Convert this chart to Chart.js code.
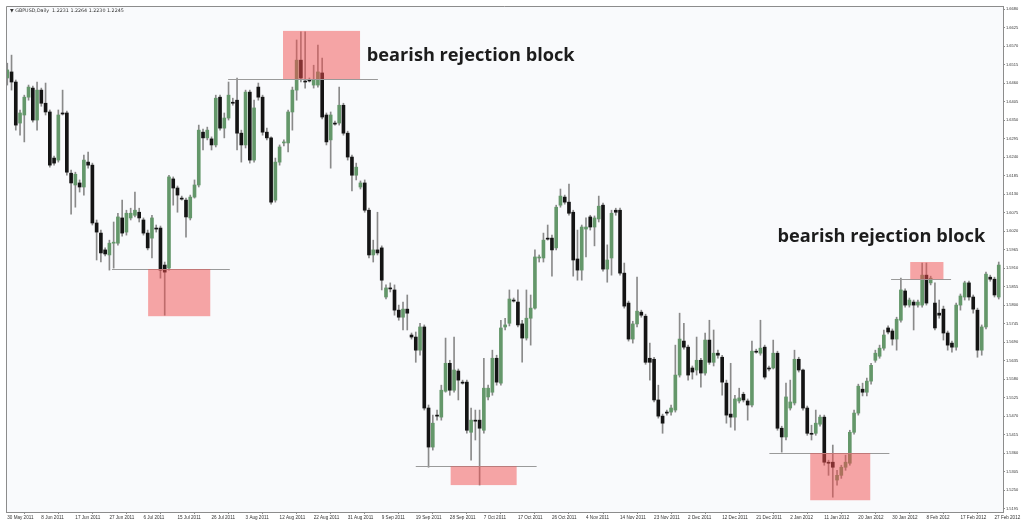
<!DOCTYPE html>
<html>
<head>
<meta charset="utf-8">
<script src="https://cdn.jsdelivr.net/npm/chart.js@4.4.0/dist/chart.umd.min.js"></script>
<style>
  html, body { margin: 0; padding: 0; background: #fff; }
  #chart { display: block; }
</style>
</head>
<body>
<canvas id="chart" width="1024" height="523"></canvas>
<script>
// GBPUSD daily candles, 30 May 2011 .. 27 Feb 2012 (one entry per bar)
const opens = [
  1.6475,1.6493,1.6463,1.6341,1.6365,1.6418,1.6445,1.6350,1.6439,1.6400,
  1.6374,1.6237,1.6231,1.6371,1.6371,1.6192,1.6157,1.6163,1.6151,1.6225,
  1.6216,1.6044,1.6014,1.5964,1.5949,1.5984,1.5984,1.6059,1.6017,1.6059,
  1.6067,1.6076,1.6053,1.6014,1.5999,1.6029,1.6029,1.5919,1.5910,1.6175,
  1.6148,1.6118,1.6112,1.6059,1.6121,1.6157,1.6314,1.6297,1.6294,1.6276,
  1.6418,1.6326,1.6356,1.6403,1.6409,1.6311,1.6276,1.6433,1.6231,1.6448,
  1.6418,1.6314,1.6297,1.6112,1.6225,1.6282,1.6282,1.6374,1.6439,1.6528,
  1.6466,1.6469,1.6454,1.6454,1.6490,1.6365,1.6291,1.6341,1.6341,1.6394,
  1.6311,1.6240,1.6186,1.6151,1.6163,1.6082,1.5949,1.5964,1.5970,1.5824,
  1.5851,1.5845,1.5785,1.5764,1.5788,1.5711,1.5705,1.5666,1.5735,1.5494,
  1.5378,1.5473,1.5467,1.5544,1.5627,1.5547,1.5604,1.5571,1.5571,1.5422,
  1.5458,1.5458,1.5428,1.5527,1.5541,1.5642,1.5568,1.5735,1.5746,1.5815,
  1.5809,1.5744,1.5702,1.5761,1.5791,1.5940,1.5940,1.5999,1.5999,1.5970,
  1.6097,1.6121,1.6106,1.6076,1.5937,1.5904,1.6026,1.6062,1.6032,1.6056,
  1.6097,1.5907,1.5940,1.6082,1.6082,1.5895,1.5806,1.5699,1.5744,1.5779,
  1.5767,1.5642,1.5639,1.5518,1.5470,1.5482,1.5482,1.5488,1.5592,1.5693,
  1.5675,1.5613,1.5607,1.5636,1.5598,1.5696,1.5630,1.5657,1.5645,1.5568,
  1.5476,1.5467,1.5515,1.5535,1.5515,1.5503,1.5663,1.5657,1.5675,1.5613,
  1.5613,1.5657,1.5434,1.5408,1.5494,1.5509,1.5639,1.5607,1.5494,1.5419,
  1.5419,1.5446,1.5467,1.5333,1.5333,1.5280,1.5294,1.5318,1.5330,1.5422,
  1.5479,1.5550,1.5541,1.5574,1.5636,1.5648,1.5672,1.5732,1.5723,1.5699,
  1.5755,1.5842,1.5800,1.5809,1.5800,1.5800,1.5889,1.5866,1.5806,1.5776,
  1.5788,1.5717,1.5687,1.5675,1.5800,1.5824,1.5866,1.5824,1.5785,1.5666,
  1.5735,1.5883,1.5877,1.5824
]
const highs = [
  1.6519,1.6543,1.6469,1.6380,1.6424,1.6454,1.6451,1.6463,1.6445,1.6460,
  1.6380,1.6243,1.6380,1.6439,1.6377,1.6201,1.6195,1.6172,1.6246,1.6255,
  1.6222,1.6053,1.6023,1.5970,1.5993,1.6047,1.6073,1.6112,1.6082,1.6088,
  1.6136,1.6088,1.6059,1.6023,1.6067,1.6038,1.6035,1.5928,1.6186,1.6181,
  1.6154,1.6124,1.6118,1.6127,1.6172,1.6335,1.6323,1.6329,1.6300,1.6424,
  1.6424,1.6371,1.6463,1.6415,1.6475,1.6320,1.6439,1.6439,1.6409,1.6460,
  1.6424,1.6326,1.6300,1.6237,1.6276,1.6291,1.6380,1.6448,1.6588,1.6612,
  1.6612,1.6475,1.6513,1.6573,1.6534,1.6371,1.6374,1.6347,1.6448,1.6400,
  1.6317,1.6246,1.6222,1.6169,1.6172,1.6088,1.5993,1.6076,1.5976,1.5860,
  1.5866,1.5860,1.5800,1.5809,1.5830,1.5717,1.5720,1.5746,1.5741,1.5503,
  1.5473,1.5488,1.5562,1.5702,1.5636,1.5705,1.5610,1.5577,1.5577,1.5494,
  1.5488,1.5488,1.5642,1.5562,1.5666,1.5651,1.5755,1.5761,1.5845,1.5821,
  1.5845,1.5755,1.5845,1.5830,1.5964,1.5949,1.6014,1.6038,1.6008,1.6097,
  1.6145,1.6127,1.6160,1.6082,1.6023,1.6038,1.6059,1.6067,1.6065,1.6124,
  1.6103,1.5979,1.6082,1.6088,1.6088,1.5925,1.5812,1.5752,1.5883,1.5785,
  1.5773,1.5687,1.5645,1.5562,1.5476,1.5488,1.5503,1.5681,1.5776,1.5746,
  1.5681,1.5619,1.5705,1.5642,1.5717,1.5755,1.5726,1.5666,1.5651,1.5577,
  1.5627,1.5532,1.5553,1.5541,1.5521,1.5693,1.5669,1.5755,1.5681,1.5619,
  1.5696,1.5663,1.5440,1.5568,1.5577,1.5666,1.5645,1.5610,1.5500,1.5443,
  1.5488,1.5473,1.5473,1.5339,1.5384,1.5309,1.5324,1.5354,1.5428,1.5488,
  1.5565,1.5568,1.5583,1.5627,1.5666,1.5681,1.5726,1.5738,1.5729,1.5764,
  1.5880,1.5848,1.5821,1.5815,1.5815,1.5925,1.5925,1.5886,1.5866,1.5815,
  1.5797,1.5723,1.5693,1.5806,1.5833,1.5871,1.5871,1.5830,1.5791,1.5741,
  1.5898,1.5889,1.5883,1.5928
]
const lows = [
  1.6454,1.6439,1.6320,1.6305,1.6285,1.6409,1.6344,1.6320,1.6391,1.6365,
  1.6210,1.6216,1.6225,1.6365,1.6186,1.6070,1.6091,1.6136,1.6127,1.6207,
  1.6038,1.5934,1.5928,1.5946,1.5904,1.5910,1.5978,1.6005,1.6008,1.6053,
  1.6062,1.6047,1.6008,1.5964,1.5940,1.6017,1.5880,1.5770,1.5904,1.6097,
  1.6076,1.6112,1.6002,1.6053,1.6118,1.6151,1.6261,1.6291,1.6261,1.6270,
  1.6320,1.6297,1.6350,1.6394,1.6261,1.6225,1.6267,1.6222,1.6225,1.6409,
  1.6305,1.6291,1.6100,1.6106,1.6216,1.6273,1.6255,1.6320,1.6409,1.6463,
  1.6445,1.6463,1.6445,1.6448,1.6353,1.6276,1.6207,1.6335,1.6335,1.6305,
  1.6231,1.6139,1.6172,1.6145,1.6076,1.5940,1.5928,1.5949,1.5845,1.5818,
  1.5839,1.5770,1.5755,1.5726,1.5726,1.5699,1.5630,1.5651,1.5488,1.5318,
  1.5369,1.5458,1.5458,1.5541,1.5532,1.5541,1.5518,1.5565,1.5419,1.5339,
  1.5399,1.5265,1.5419,1.5518,1.5532,1.5562,1.5562,1.5726,1.5738,1.5809,
  1.5735,1.5630,1.5696,1.5681,1.5788,1.5928,1.5928,1.5993,1.5886,1.5964,
  1.6091,1.6100,1.6067,1.5886,1.5874,1.5874,1.5943,1.6023,1.5976,1.6047,
  1.5901,1.5868,1.5889,1.6067,1.5889,1.5791,1.5693,1.5687,1.5735,1.5764,
  1.5624,1.5577,1.5512,1.5464,1.5419,1.5473,1.5473,1.5482,1.5586,1.5669,
  1.5577,1.5580,1.5592,1.5556,1.5592,1.5624,1.5619,1.5642,1.5532,1.5449,
  1.5437,1.5428,1.5509,1.5512,1.5458,1.5497,1.5657,1.5651,1.5580,1.5604,
  1.5610,1.5428,1.5363,1.5399,1.5488,1.5503,1.5601,1.5488,1.5413,1.5399,
  1.5413,1.5440,1.5324,1.5294,1.5229,1.5265,1.5285,1.5309,1.5324,1.5416,
  1.5473,1.5530,1.5530,1.5565,1.5630,1.5642,1.5666,1.5714,1.5681,1.5666,
  1.5749,1.5794,1.5794,1.5726,1.5794,1.5794,1.5800,1.5860,1.5726,1.5761,
  1.5696,1.5666,1.5660,1.5666,1.5785,1.5815,1.5815,1.5776,1.5645,1.5651,
  1.5729,1.5871,1.5824,1.5818
]
const closes = [
  1.6499,1.6463,1.6335,1.6371,1.6418,1.6448,1.6350,1.6439,1.6400,1.6374,
  1.6216,1.6222,1.6365,1.6368,1.6195,1.6163,1.6189,1.6151,1.6231,1.6216,
  1.6044,1.6017,1.5955,1.5952,1.5984,1.5987,1.6062,1.6014,1.6073,1.6073,
  1.6082,1.6059,1.6014,1.5970,1.6059,1.6026,1.5904,1.5898,1.6181,1.6148,
  1.6127,1.6115,1.6062,1.6121,1.6157,1.6320,1.6297,1.6320,1.6276,1.6415,
  1.6326,1.6356,1.6424,1.6400,1.6311,1.6276,1.6433,1.6231,1.6386,1.6418,
  1.6314,1.6297,1.6106,1.6225,1.6270,1.6285,1.6374,1.6439,1.6528,1.6475,
  1.6463,1.6466,1.6469,1.6493,1.6359,1.6285,1.6365,1.6338,1.6394,1.6311,
  1.6240,1.6186,1.6210,1.6163,1.6082,1.5949,1.5964,1.5955,1.5874,1.5851,
  1.5848,1.5785,1.5764,1.5788,1.5776,1.5705,1.5666,1.5735,1.5494,1.5378,
  1.5449,1.5470,1.5547,1.5627,1.5547,1.5607,1.5577,1.5568,1.5428,1.5458,
  1.5455,1.5434,1.5553,1.5553,1.5642,1.5571,1.5732,1.5741,1.5818,1.5812,
  1.5741,1.5702,1.5761,1.5791,1.5943,1.5943,1.5993,1.5996,1.5964,1.6091,
  1.6124,1.6106,1.6073,1.5934,1.5904,1.6032,1.6032,1.6032,1.6059,1.6094,
  1.5907,1.5934,1.6073,1.6076,1.5895,1.5797,1.5699,1.5744,1.5782,1.5770,
  1.5630,1.5630,1.5518,1.5470,1.5449,1.5479,1.5494,1.5592,1.5699,1.5675,
  1.5592,1.5601,1.5636,1.5598,1.5696,1.5630,1.5657,1.5651,1.5571,1.5473,
  1.5467,1.5521,1.5524,1.5518,1.5503,1.5663,1.5660,1.5672,1.5586,1.5610,
  1.5657,1.5434,1.5408,1.5527,1.5512,1.5639,1.5607,1.5494,1.5419,1.5416,
  1.5449,1.5467,1.5333,1.5330,1.5318,1.5294,1.5318,1.5333,1.5422,1.5479,
  1.5559,1.5541,1.5574,1.5621,1.5657,1.5672,1.5711,1.5720,1.5699,1.5758,
  1.5845,1.5800,1.5815,1.5800,1.5809,1.5889,1.5806,1.5880,1.5732,1.5770,
  1.5717,1.5681,1.5675,1.5800,1.5827,1.5866,1.5824,1.5788,1.5666,1.5735,
  1.5892,1.5877,1.5830,1.5919
]

// date labels, one every 8 bars
const tickLabels = ['30 May 2011','8 Jun 2011','17 Jun 2011','27 Jun 2011','6 Jul 2011','15 Jul 2011',
  '26 Jul 2011','3 Aug 2011','12 Aug 2011','22 Aug 2011','31 Aug 2011','9 Sep 2011','19 Sep 2011',
  '28 Sep 2011','7 Oct 2011','17 Oct 2011','26 Oct 2011','4 Nov 2011','14 Nov 2011','23 Nov 2011',
  '2 Dec 2011','12 Dec 2011','21 Dec 2011','2 Jan 2012','11 Jan 2012','20 Jan 2012','30 Jan 2012',
  '8 Feb 2012','17 Feb 2012','27 Feb 2012']
const tickEvery = 8

const priceTicks = [1.5195,1.5250,1.5305,1.5360,1.5415,1.5470,1.5525,1.5580,1.5635,1.5690,
  1.5745,1.5800,1.5855,1.5910,1.5965,1.6020,1.6075,1.6130,1.6185,1.6240,1.6295,1.6350,
  1.6405,1.6460,1.6515,1.6570,1.6625,1.6680]

// rejection blocks (bar index range, price range) and the levels drawn next to them
const blocks = [
  { x0: 33.1, x1: 47.7, lo: 1.5767, hi: 1.5907 },
  { x0: 64.8, x1: 82.9, lo: 1.6472, hi: 1.6615 },
  { x0: 104.2, x1: 119.7, lo: 1.5265, hi: 1.5321 },
  { x0: 188.7, x1: 202.8, lo: 1.5220, hi: 1.5360 },
  { x0: 212.2, x1: 220.0, lo: 1.5877, hi: 1.5928 }
]
const levels = [
  { x0: 24.6, x1: 52.3, y: 1.5907 },
  { x0: 51.9, x1: 87.1, y: 1.6472 },
  { x0: 96.0, x1: 124.4, y: 1.5321 },
  { x0: 179.1, x1: 207.3, y: 1.5360 },
  { x0: 207.7, x1: 221.8, y: 1.5877 }
]
const notes = [
  { x: 84.5, y: 1.6540, text: 'bearish rejection block' },
  { x: 181.0, y: 1.6002, text: 'bearish rejection block' }
]

const COLORS = {
  up: '#64976a',
  down: '#141414',
  wick: '#8a8a8a',
  axis: '#8c8c8c',
  text: '#333333',
  plot: '#f9fafc',
  block: 'rgba(242, 78, 78, 0.5)',
  level: '#9a9a9a'
}

const bodyColors = opens.map((o, i) => closes[i] >= o ? COLORS.up : COLORS.down)

const panel = {
  id: 'panel',
  beforeDraw(chart) {
    const { ctx, chartArea: a } = chart
    ctx.save()
    ctx.fillStyle = '#ffffff'
    ctx.fillRect(0, 0, chart.width, chart.height)
    ctx.fillStyle = COLORS.plot
    ctx.fillRect(a.left, a.top, a.right - a.left, a.bottom - a.top)
    ctx.restore()
  },
  afterDatasetsDraw(chart) {
    const { ctx, chartArea: a } = chart
    const x = chart.scales.x
    const y = chart.scales.y
    ctx.save()
    ctx.beginPath()
    ctx.rect(a.left, a.top, a.right - a.left, a.bottom - a.top)
    ctx.clip()

    ctx.strokeStyle = COLORS.level
    ctx.lineWidth = 1
    levels.forEach(l => {
      const py = Math.round(y.getPixelForValue(l.y)) + 0.5
      ctx.beginPath()
      ctx.moveTo(x.getPixelForValue(l.x0), py)
      ctx.lineTo(x.getPixelForValue(l.x1), py)
      ctx.stroke()
    })

    ctx.fillStyle = COLORS.block
    blocks.forEach(b => {
      const x0 = x.getPixelForValue(b.x0)
      const x1 = x.getPixelForValue(b.x1)
      const y0 = y.getPixelForValue(b.hi)
      const y1 = y.getPixelForValue(b.lo)
      ctx.fillRect(x0, y0, x1 - x0, y1 - y0)
    })

    ctx.fillStyle = '#1c1c1c'
    ctx.textBaseline = 'middle'
    ctx.textAlign = 'left'
    notes.forEach(n => {
      ctx.font = 'bold 18px "Open Sans"'
      const w = ctx.measureText(n.text).width
      const size = 18 * 208 / w
      ctx.font = 'bold ' + size.toFixed(2) + 'px "Open Sans"'
      ctx.fillText(n.text, x.getPixelForValue(n.x), y.getPixelForValue(n.y))
    })
    ctx.restore()
  },
  afterDraw(chart) {
    const { ctx, chartArea: a } = chart
    ctx.save()
    ctx.strokeStyle = COLORS.axis
    ctx.lineWidth = 1
    ctx.beginPath()
    ctx.moveTo(a.left + 0.5, a.bottom)
    ctx.lineTo(a.left + 0.5, a.top + 0.5)
    ctx.lineTo(a.right, a.top + 0.5)
    ctx.stroke()
    ctx.fillStyle = COLORS.text
    ctx.font = '4.8px "DejaVu Sans"'
    ctx.textBaseline = 'middle'
    ctx.fillText('\u25BC GBPUSD,Daily  1.2231 1.2264 1.2230 1.2245', a.left + 4, a.top + 5)
    ctx.restore()
  }
}

const ctx = document.getElementById('chart')

new Chart(ctx, {
  type: 'bar',
  data: {
    datasets: [
      {
        label: 'body',
        data: opens.map((o, i) => ({ x: i, y: [o, closes[i]] })),
        backgroundColor: bodyColors,
        barThickness: 3,
        minBarLength: 1,
        grouped: false,
        order: 0
      },
      {
        label: 'wick',
        data: lows.map((l, i) => ({ x: i, y: [l, highs[i]] })),
        backgroundColor: COLORS.wick,
        barThickness: 1,
        grouped: false,
        order: 1
      }
    ]
  },
  options: {
    responsive: false,
    animation: false,
    devicePixelRatio: 1,
    layout: { padding: { left: 6, top: 6, right: 0, bottom: 0 } },
    plugins: {
      legend: { display: false },
      tooltip: { enabled: false },
      title: { display: false }
    },
    scales: {
      x: {
        type: 'linear',
        min: -0.3,
        max: 234,
        offset: false,
        afterBuildTicks: s => { s.ticks = tickLabels.map((_, k) => ({ value: k * tickEvery })) },
        afterFit: s => { s.height = 11; s.paddingLeft = 0; s.paddingRight = 0 },
        grid: { drawOnChartArea: false, tickLength: 2, color: COLORS.axis },
        border: { display: true, color: COLORS.axis },
        ticks: {
          autoSkip: false,
          maxRotation: 0,
          align: 'start',
          padding: 1,
          color: COLORS.text,
          font: { family: 'Liberation Sans', size: 4.6 },
          callback: v => tickLabels[Math.round(v / tickEvery)]
        }
      },
      y: {
        type: 'linear',
        position: 'right',
        min: 1.5185,
        max: 1.6689,
        afterBuildTicks: s => { s.ticks = priceTicks.map(v => ({ value: v })) },
        afterFit: s => { s.width = 21 },
        grid: { drawOnChartArea: false, tickLength: 2, color: COLORS.axis },
        border: { display: true, color: COLORS.axis },
        ticks: {
          padding: 1,
          color: COLORS.text,
          font: { family: 'Liberation Sans', size: 4 },
          callback: v => v.toFixed(4)
        }
      }
    }
  },
  plugins: [panel]
})
</script>
</body>
</html>
